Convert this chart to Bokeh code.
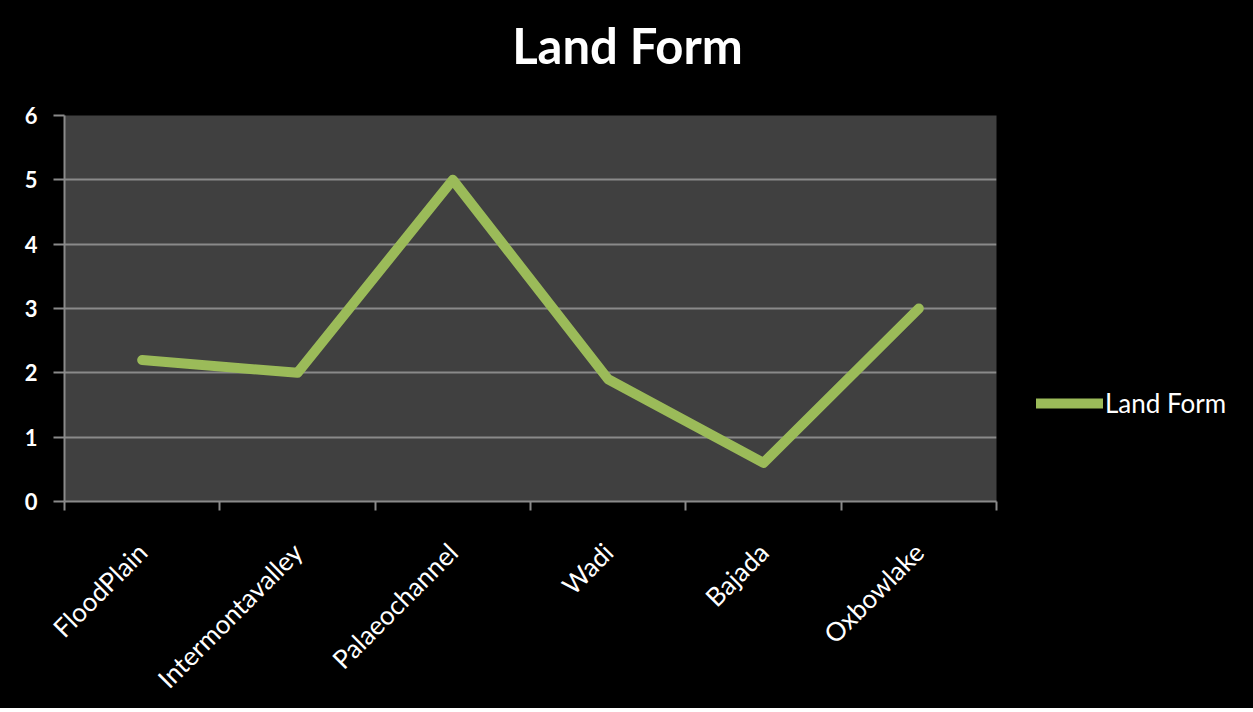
from bokeh.plotting import figure
from bokeh.models import FixedTicker, Range1d, Legend, LegendItem, Div
from bokeh.layouts import column
from bokeh.embed import file_html
from bokeh.resources import INLINE
import math

categories = ["FloodPlain", "Intermontavalley", "Palaeochannel", "Wadi", "Bajada", "Oxbowlake"]
values = [2.2, 2.0, 5.0, 1.9, 0.6, 3.0]
y_ticks = [0, 1, 2, 3, 4, 5, 6]
series_name = "Land Form"
chart_title = "Land Form"

n = len(categories)
x_pos = [i + 0.5 for i in range(n)]
boundaries = [float(i) for i in range(n + 1)]

TITLE_H = 90

title_div = Div(text=chart_title, width=1245, height=TITLE_H,
                styles={"background-color": "black", "color": "white",
                        "font-family": "Lato", "font-weight": "bold",
                        "font-size": "49px", "line-height": "1",
                        "text-align": "center", "padding-top": "21px",
                        "padding-left": "10px", "box-sizing": "border-box",
                        "margin": "0"})

p = figure(frame_width=932, frame_height=386, output_backend="svg", toolbar_location=None,
           x_range=Range1d(0, n), y_range=Range1d(y_ticks[0], y_ticks[-1]),
           min_border_left=64, min_border_right=249, min_border_top=115 - TITLE_H,
           min_border_bottom=203)

p.background_fill_color = "#404040"
p.border_fill_color = "black"
p.outline_line_color = None

# grids
p.xgrid.grid_line_color = None
p.ygrid.ticker = FixedTicker(ticks=y_ticks)
p.ygrid.grid_line_color = "#8a8a8a"
p.ygrid.grid_line_width = 2

# y axis
p.yaxis.ticker = FixedTicker(ticks=y_ticks)
p.yaxis.axis_line_color = "#8a8a8a"
p.yaxis.axis_line_width = 2
p.yaxis.major_tick_line_color = "#8a8a8a"
p.yaxis.major_tick_line_width = 2
p.yaxis.major_tick_out = 11
p.yaxis.major_tick_in = 0
p.yaxis.minor_tick_line_color = None
p.yaxis.major_label_text_font = "Lato"
p.yaxis.major_label_text_font_size = "22px"
p.yaxis.major_label_text_font_style = "bold"
p.yaxis.major_label_text_color = "white"
p.yaxis.major_label_standoff = 16

# x axis: labels at category centers, tick marks at category boundaries
p.xaxis.ticker = FixedTicker(ticks=x_pos, minor_ticks=boundaries)
p.xaxis.major_label_overrides = {xp: c for xp, c in zip(x_pos, categories)}
p.xaxis.major_tick_line_color = None
p.xaxis.minor_tick_line_color = "#8a8a8a"
p.xaxis.minor_tick_line_width = 2
p.xaxis.minor_tick_out = 9
p.xaxis.minor_tick_in = 0
p.xaxis.axis_line_color = "#8a8a8a"
p.xaxis.axis_line_width = 2
p.xaxis.major_label_orientation = math.pi / 4
p.xaxis.major_label_text_font = "Lato"
p.xaxis.major_label_text_font_size = "26px"
p.xaxis.major_label_text_color = "white"
p.xaxis.major_label_standoff = 37

r = p.line(x_pos, values, line_width=10, line_color="#9BBB59",
           line_cap="round", line_join="round")

legend = Legend(items=[LegendItem(label=series_name, renderers=[r])],
                location=(40, 82), background_fill_color="black",
                background_fill_alpha=1, border_line_color=None,
                label_text_color="white", label_text_font="Lato",
                label_text_font_size="26px", glyph_width=67,
                label_standoff=2, padding=0, margin=0)
p.add_layout(legend, "right")

layout = column(title_div, p, spacing=0, styles={"background-color": "black"})

open("out.html", "w").write(file_html(layout, INLINE))
